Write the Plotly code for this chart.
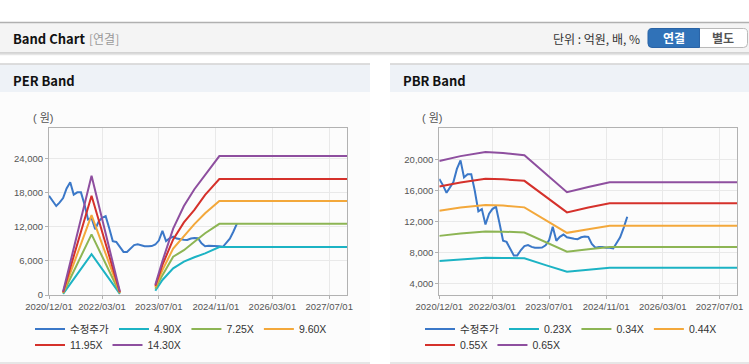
import plotly.graph_objects as go
import pandas as pd

W, H = 749, 364

# ---------------- data ----------------
price_months = pd.date_range("2020-12-01", "2025-05-01", freq="MS").strftime("%Y-%m-%d").tolist()
price = [17500, 16700, 15700, 16300, 17100, 18800, 19900, 17700, 18100, 18100,
         16000, 13300, 13600, 11600, 13000, 13600, 13900, 11800, 9500, 9350,
         8400, 7600, 7600, 8300, 8800, 8950, 8700, 8600, 8600, 8620,
         8900, 9600, 11300, 9500, 10000, 10300, 9950, 9800, 9750, 9700,
         9950, 10050, 10000, 9100, 8600, 8700, 8700, 8600, 8600, 8500,
         9300, 9950, 11200, 12600]

per_dates = ["2021-04-01", "2021-12-01", "2022-08-01", "2023-01-01",
             "2023-06-01", "2023-08-01", "2023-11-01", "2024-02-01",
             "2024-05-01", "2024-08-01", "2024-12-01", "2027-12-01"]
per_names = ["4.90X", "7.25X", "9.60X", "11.95X", "14.30X"]
per_490 = [200, 7200, 200, None, 760, 2650, 4700, 5900, 6650, 7350, 8450, 8450]
per_725 = [300, 10700, 300, None, 1100, 3500, 6750, 7900, 9400, 10900, 12550, 12550]
per_960 = [400, 14100, 400, None, 1400, 4400, 8200, 10400, 12500, 14400, 16600, 16600]
per_1195 = [500, 17500, 500, None, 1600, 5300, 9800, 12800, 15000, 17650, 20450, 20450]
per_1430 = [600, 21050, 600, None, 1800, 6000, 11700, 15700, 18650, 21200, 24500, 24500]

pbr_dates = ["2020-12-01", "2021-06-01", "2022-01-01", "2022-06-01", "2022-12-01",
             "2023-06-01", "2023-12-01", "2024-06-01", "2024-12-01", "2027-12-01"]
pbr_names = ["0.23X", "0.34X", "0.44X", "0.55X", "0.65X"]
pbr_023 = [6870, 7100, 7300, 7280, 7220, 6350, 5480, 5750, 6000, 6000]
pbr_034 = [10130, 10450, 10690, 10680, 10560, 9300, 8080, 8400, 8700, 8700]
pbr_044 = [13390, 13800, 14130, 14050, 13820, 12150, 10520, 11000, 11430, 11430]
pbr_055 = [16520, 17050, 17520, 17450, 17250, 15200, 13170, 13800, 14340, 14340]
pbr_065 = [19820, 20450, 20990, 20850, 20560, 18200, 15780, 16450, 17080, 17080]

x_tickvals = ["2020-12-01", "2022-03-01", "2023-07-01", "2024-11-01", "2026-03-01", "2027-07-01"]
x_ticktext = ["2020/12/01", "2022/03/01", "2023/07/01", "2024/11/01", "2026/03/01", "2027/07/01"]
per_yticks = [0, 6000, 12000, 18000, 24000]
pbr_yticks = [4000, 8000, 12000, 16000, 20000]

price_name = "수정주가"
colors = {"price": "#3b78c8", "b1": "#1cb3c4", "b2": "#8db554", "b3": "#f3a83b",
          "b4": "#d5312b", "b5": "#8e4f9f"}
band_colors = [colors["b1"], colors["b2"], colors["b3"], colors["b4"], colors["b5"]]

# ---------------- figure ----------------
fig = go.Figure()
LW = 2

fig.add_trace(go.Scatter(x=price_months, y=price, name=price_name, mode="lines",
                         line=dict(color=colors["price"], width=LW),
                         xaxis="x", yaxis="y", legend="legend"))
for i, (nm, vals) in enumerate(zip(per_names, [per_490, per_725, per_960, per_1195, per_1430])):
    fig.add_trace(go.Scatter(x=per_dates, y=vals, name=nm, mode="lines",
                             line=dict(color=band_colors[i], width=LW),
                             xaxis="x", yaxis="y", legend="legend" if i < 3 else "legend2"))

fig.add_trace(go.Scatter(x=price_months, y=price, name=price_name, mode="lines",
                         line=dict(color=colors["price"], width=LW),
                         xaxis="x2", yaxis="y2", legend="legend3"))
for i, (nm, vals) in enumerate(zip(pbr_names, [pbr_023, pbr_034, pbr_044, pbr_055, pbr_065])):
    fig.add_trace(go.Scatter(x=pbr_dates, y=vals, name=nm, mode="lines",
                             line=dict(color=band_colors[i], width=LW),
                             xaxis="x2", yaxis="y2", legend="legend3" if i < 3 else "legend4"))


def px(p):
    return p / W


def py(p):
    return 1 - p / H


TICKFONT = dict(family="Liberation Sans, Noto Sans CJK KR", size=9.5, color="#555555")
AXLINE = "#b2b2b2"
GRID = "#e9e9e9"

xcommon = dict(type="date", range=["2020-12-01", "2027-12-01"], tickvals=x_tickvals,
               ticktext=x_ticktext, showgrid=True, gridcolor=GRID, gridwidth=1,
               showline=True, mirror=True, linecolor=AXLINE, linewidth=1,
               ticks="outside", ticklen=3, tickcolor=AXLINE, tickfont=TICKFONT,
               zeroline=False, fixedrange=True, automargin=False)
ycommon = dict(showgrid=True, gridcolor=GRID, gridwidth=1, showline=True, mirror=True,
               linecolor=AXLINE, linewidth=1, ticks="outside", ticklen=3, tickcolor=AXLINE,
               tickfont=TICKFONT, tickformat=",", zeroline=False, fixedrange=True,
               automargin=False)

ydom = [py(295), py(128.3)]
fig.update_layout(
    xaxis=dict(domain=[px(49), px(347)], anchor="y", **xcommon),
    yaxis=dict(domain=ydom, anchor="x", range=[0, 29400], tickvals=per_yticks, **ycommon),
    xaxis2=dict(domain=[px(439.3), px(737.3)], anchor="y2", **xcommon),
    yaxis2=dict(domain=ydom, anchor="x2", range=[2480, 24050], tickvals=pbr_yticks, **ycommon),
)

LEGFONT = dict(family="Liberation Sans, Noto Sans CJK KR", size=10.5, color="#333333")
legcommon = dict(orientation="h", xanchor="left", yanchor="middle", bgcolor="rgba(0,0,0,0)",
                 font=LEGFONT, itemwidth=30, traceorder="normal", borderwidth=0)
fig.update_layout(
    legend=dict(x=px(30), y=py(329), **legcommon),
    legend2=dict(x=px(30), y=py(345), **legcommon),
    legend3=dict(x=px(420), y=py(329), **legcommon),
    legend4=dict(x=px(420), y=py(345), **legcommon),
)

# ---------------- page decoration ----------------
shapes = []


def rect(x0, y0, x1, y1, fill, line=None, lw=0):
    shapes.append(dict(type="rect", xref="paper", yref="paper", x0=px(x0), x1=px(x1),
                       y0=py(y1), y1=py(y0), fillcolor=fill, layer="below",
                       line=dict(width=lw, color=line or fill)))


def hline(x0, x1, y, color, w=1):
    shapes.append(dict(type="line", xref="paper", yref="paper", x0=px(x0), x1=px(x1),
                       y0=py(y), y1=py(y), layer="below", line=dict(color=color, width=w)))


def rounded(x0, y0, x1, y1, r, left, right, fill, line, lw=1):
    def P(a, b):
        return f"{px(a):.5f},{py(b):.5f}"
    rl = r if left else 0
    rr = r if right else 0
    d = f"M{P(x0 + rl, y0)} L{P(x1 - rr, y0)} "
    d += f"Q{P(x1, y0)} {P(x1, y0 + rr)} " if rr else ""
    d += f"L{P(x1, y1 - rr)} "
    d += f"Q{P(x1, y1)} {P(x1 - rr, y1)} " if rr else ""
    d += f"L{P(x0 + rl, y1)} "
    d += f"Q{P(x0, y1)} {P(x0, y1 - rl)} " if rl else ""
    d += f"L{P(x0, y0 + rl)} "
    d += f"Q{P(x0, y0)} {P(x0 + rl, y0)} " if rl else ""
    d += "Z"
    shapes.append(dict(type="path", xref="paper", yref="paper", path=d, fillcolor=fill,
                       layer="below", line=dict(color=line, width=lw)))


# top header bar
rect(0, 22, 749, 53, "#f4f4f4")
hline(0, 749, 22.5, "#b0b0b0", 1.5)
hline(0, 749, 53, "#c9c9c9", 1.5)
hline(0, 749, 54.5, "#e6e6e6", 1.5)
# buttons
rounded(699, 28.5, 747.5, 47.5, 4, False, True, "#ffffff", "#b9b9b9", 1)
rounded(648, 28.5, 699.5, 47.5, 4, True, False, "#3072b8", "#2a64a6", 1)

# panels
for (a, b) in [(0, 370), (390, 749)]:
    rect(a, 92, b, 362, "#fcfcfc")
    rect(a, 64.5, b, 92, "#eef2f7")
    hline(a, b, 64, "#d2d2d2", 1.5)
    hline(a, b, 363, "#dedede", 1.5)

annotations = []


def text(x, y, s, size, color, bold=False, anchor="left", family="Noto Sans CJK KR"):
    annotations.append(dict(xref="paper", yref="paper", x=px(x), y=py(y), text=(f"<b>{s}</b>" if bold else s),
                            showarrow=False, xanchor=anchor, yanchor="middle",
                            font=dict(family=family, size=size, color=color)))


text(11, 38.5, "Band Chart", 13, "#111111", bold=True)
text(87, 38.5, "[연결]", 12, "#999999")
text(642, 38.5, "단위 : 억원, 배, %", 12, "#333333", anchor="right")
text(674, 38, "연결", 12, "#ffffff", bold=True, anchor="center")
text(723, 38, "별도", 12, "#555555", bold=True, anchor="center")
text(11, 80, "PER Band", 13, "#111111", bold=True)
text(401, 80, "PBR Band", 13, "#111111", bold=True)
text(31, 118, "( 원)", 11, "#555555", family="Liberation Sans, Noto Sans CJK KR")
text(420, 118, "( 원)", 11, "#555555", family="Liberation Sans, Noto Sans CJK KR")

fig.update_layout(
    width=W, height=H, margin=dict(l=0, r=0, t=0, b=0, pad=0, autoexpand=False),
    paper_bgcolor="#ffffff", plot_bgcolor="#ffffff",
    shapes=shapes, annotations=annotations, hovermode=False,
)

fig.write_html("out.html", config={"displayModeBar": False},
               post_script="document.body.style.margin='0px';document.body.style.overflow='hidden';")
